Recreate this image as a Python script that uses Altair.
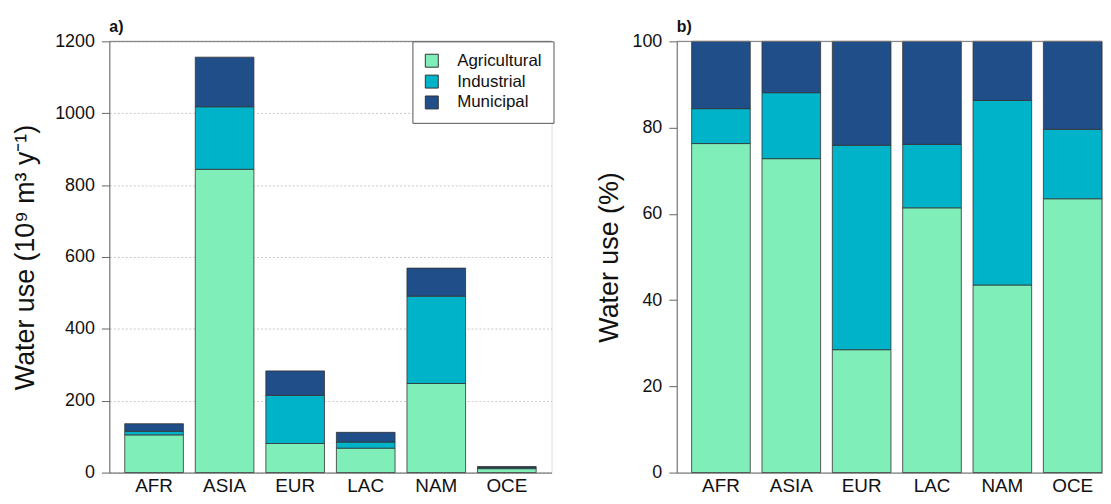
import altair as alt
import pandas as pd

regions = ["AFR", "ASIA", "EUR", "LAC", "NAM", "OCE"]
sectors = ["Agricultural", "Industrial", "Municipal"]
colors = ["#80EEB8", "#00B3C9", "#1F4E89"]

# panel a: absolute water use (10^9 m3/y)
agr_abs = [105, 844, 81, 68, 248, 11]
ind_abs = [10, 174, 134, 17, 243, 3]
mun_abs = [21, 138, 68, 27, 78, 3]

# panel b: share of water use (%)
agr_pct = [76.3, 72.8, 28.5, 61.4, 43.5, 63.5]
ind_pct = [8.1, 15.3, 47.4, 14.7, 42.8, 16.1]
mun_pct = [15.6, 11.9, 24.1, 23.9, 13.7, 20.4]

ticks_a = [0, 200, 400, 600, 800, 1000, 1200]
ticks_b = [0, 20, 40, 60, 80, 100]

FONT = "Liberation Sans"


def long_table(a, i, m):
    rows = []
    for k, r in enumerate(regions):
        for o, (s, vals) in enumerate(zip(sectors, [a, i, m])):
            rows.append({"region": r, "sector": s, "ord": o, "value": vals[k]})
    return pd.DataFrame(rows)


df_a = long_table(agr_abs, ind_abs, mun_abs)
df_b = long_table(agr_pct, ind_pct, mun_pct)

color_scale = alt.Scale(domain=sectors, range=colors)

legend_a = alt.Legend(
    title=None, orient="none", legendX=305, legendY=0,
    padding=11, strokeColor="#555", fillColor="white",
    symbolType="square", symbolSize=170, symbolStrokeColor="#333",
    symbolStrokeWidth=1, symbolOpacity=1,
    labelFont=FONT, labelFontSize=17, labelColor="#111", labelOffset=17,
    rowPadding=2,
)


def panel(df, ticks, ytitle, label, legend, width, pin, pout, align, title_pad, grid):
    x = alt.X("region:N", sort=regions,
              scale=alt.Scale(paddingInner=pin, paddingOuter=pout, align=align),
              axis=alt.Axis(title=None, labelAngle=0, ticks=False, domain=True,
                            domainColor="#666", labelFont=FONT, labelFontSize=19,
                            labelColor="#111", labelPadding=4))
    y = alt.Y("value:Q", stack="zero",
              scale=alt.Scale(domain=[ticks[0], ticks[-1]], nice=False),
              axis=alt.Axis(values=ticks, format="d", title=ytitle, titleFont=FONT,
                            titleFontSize=27, titleFontWeight="normal",
                            titleColor="#111", titlePadding=title_pad,
                            labelFont=FONT, labelFontSize=18, labelColor="#111",
                            labelPadding=7, tickSize=8, tickColor="#666",
                            domainColor="#666", grid=grid, gridDash=[2, 2],
                            gridColor="#c8c8c8"))
    bars = alt.Chart(df).mark_bar(stroke="#333", strokeWidth=0.8).encode(
        x=x, y=y,
        color=alt.Color("sector:N", scale=color_scale, legend=legend),
        order=alt.Order("ord:Q", sort="ascending"),
    )
    top = alt.Chart(pd.DataFrame({"v": [ticks[-1]]})).mark_rule(
        color="#777", strokeWidth=1).encode(y=alt.Y("v:Q"))
    return alt.layer(bars, top).properties(
        width=width, height=434,
        title=alt.TitleParams(label, anchor="start", frame="group", font=FONT,
                              fontSize=16, fontWeight="bold", color="#111",
                              offset=-3),
    )


pa = panel(df_a, ticks_a, "Water use (10⁹ m³ y⁻¹)", "a)", legend_a, 445,
           0.169, 0.218, 0.5, 15, True)
pb = panel(df_b, ticks_b, "Water use (%)", "b)", None, 428,
           0.1667, 0.106, 1.0, 9, False)

chart = alt.hconcat(pa, pb, spacing=40).resolve_legend(
    color="independent").resolve_scale(y="independent").properties(
    padding={"left": 3, "top": 9, "right": 0, "bottom": 0}
).configure_view(stroke=None).configure(background="white")

chart.save("out.html", embed_options={"renderer": "svg", "actions": False})
